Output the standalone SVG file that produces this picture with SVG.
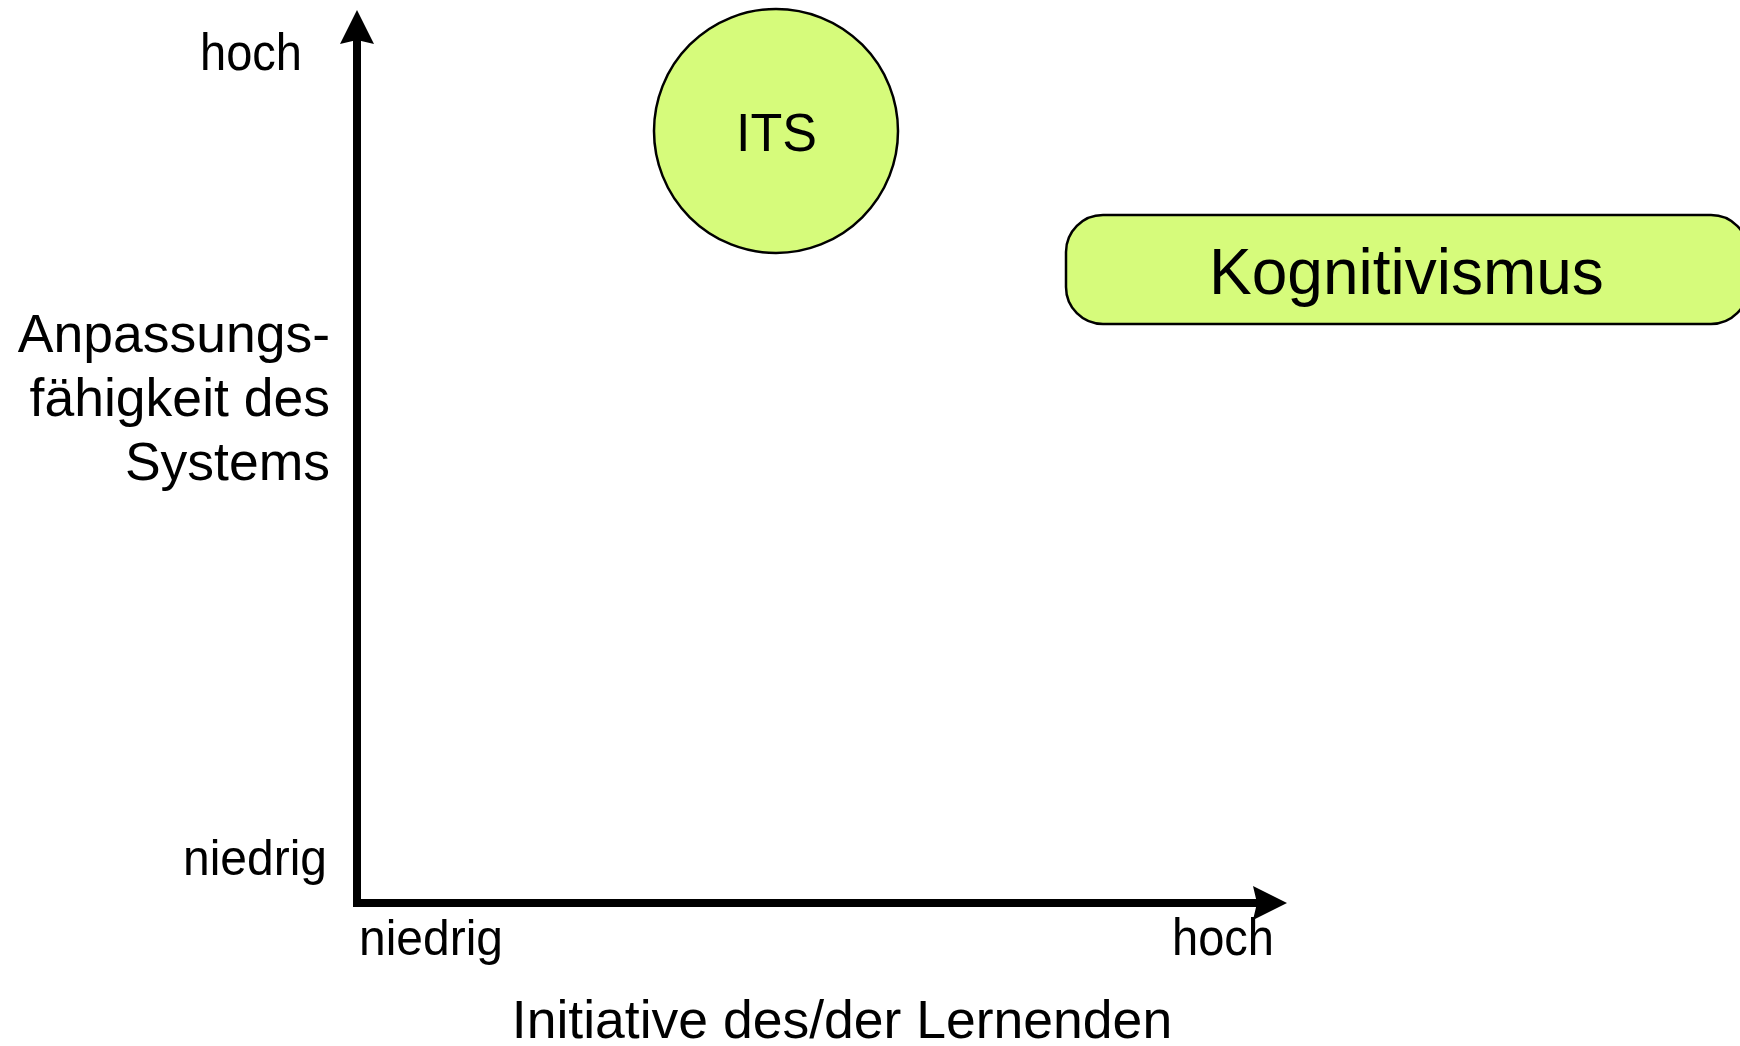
<svg xmlns="http://www.w3.org/2000/svg" width="1740" height="1046" viewBox="0 0 1740 1046">
  <style>
    .lbl { font-family: "Liberation Sans", Arial, Helvetica, sans-serif; fill: #000; }
    .node { fill: #d6fb7b; stroke: #000; stroke-width: 2.5; }
    .axis { fill: none; stroke: #000; stroke-width: 8; stroke-linejoin: miter; }
  </style>
  <defs>
    <marker id="head" markerUnits="userSpaceOnUse" markerWidth="34" markerHeight="34" refX="4" refY="17" orient="auto-start-reverse">
      <path d="M0,0 L34,17 L0,34 L4,17 z" fill="#000"/>
    </marker>
  </defs>
  <rect width="1740" height="1046" fill="#fff"/>

  <!-- axes -->
  <g id="connectors">
    <path class="axis" d="M357,40 L357,903 L1257,903" marker-start="url(#head)" marker-end="url(#head)"/>
  </g>

  <!-- axis tick labels -->
  <g id="y-high">
    <text class="lbl" x="200" y="70" font-size="52" textLength="102" lengthAdjust="spacingAndGlyphs">hoch</text>
  </g>
  <g id="y-low">
    <text class="lbl" x="183" y="875" font-size="50" textLength="144" lengthAdjust="spacingAndGlyphs">niedrig</text>
  </g>
  <g id="x-low">
    <text class="lbl" x="359" y="955" font-size="50" textLength="144" lengthAdjust="spacingAndGlyphs">niedrig</text>
  </g>
  <g id="x-high">
    <text class="lbl" x="1172" y="955" font-size="52" textLength="102" lengthAdjust="spacingAndGlyphs">hoch</text>
  </g>

  <!-- axis titles -->
  <g id="y-title">
    <text class="lbl" x="330" y="352" font-size="53.5" text-anchor="end">Anpassungs-</text>
    <text class="lbl" x="330" y="416" font-size="53.5" text-anchor="end">fähigkeit des</text>
    <text class="lbl" x="330" y="480" font-size="53.5" text-anchor="end">Systems</text>
  </g>
  <g id="x-title">
    <text class="lbl" x="842" y="1038" font-size="53.5" text-anchor="middle">Initiative des/der Lernenden</text>
  </g>

  <!-- nodes -->
  <g id="its">
    <circle class="node" cx="776" cy="131" r="122"/>
    <text class="lbl" x="736" y="151" font-size="54" textLength="81" lengthAdjust="spacingAndGlyphs">ITS</text>
  </g>
  <g id="kognitivismus">
    <rect class="node" x="1066" y="215" width="682" height="109" rx="37" ry="37" stroke-width="3"/>
    <text class="lbl" x="1209" y="294" font-size="64">Kognitivismus</text>
  </g>
</svg>
